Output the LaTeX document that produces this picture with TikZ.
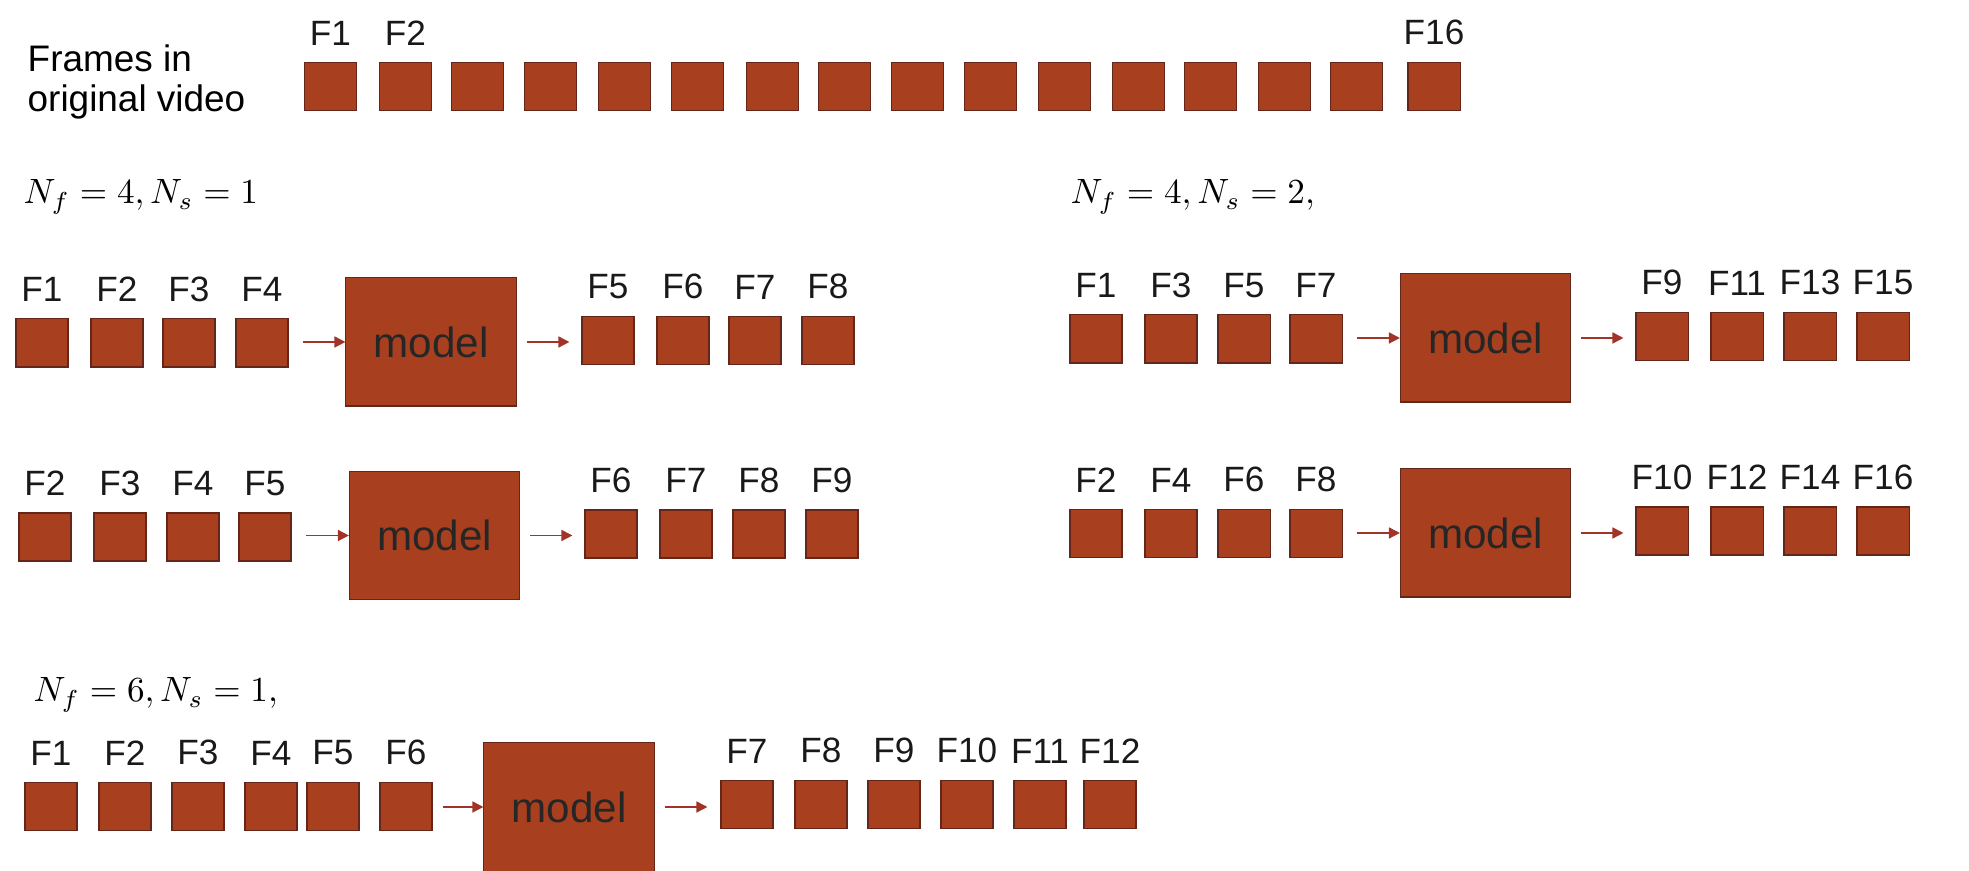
\documentclass[tikz,border=0pt]{standalone}
\usepackage[no-math]{fontspec}
\setmainfont{Liberation Sans}
\usepackage{tikz}
\usetikzlibrary{arrows.meta}
\definecolor{framefill}{RGB}{168,64,32}
\definecolor{frameline}{RGB}{100,38,26}
\definecolor{arrowred}{RGB}{160,52,40}

\begin{document}
\begin{tikzpicture}[x=0.01cm, y=-0.01cm,
  framebox/.style={draw=frameline, line width=0.3pt, fill=framefill, minimum width=0.52cm, minimum height=0.48cm, inner sep=0pt},
  modelbox/.style={draw=frameline, line width=0.3pt, fill=framefill, minimum width=1.7cm, minimum height=1.28cm, inner sep=0pt, font=\fontsize{12}{14}\selectfont, text=black!85},
  lab/.style={font=\fontsize{10}{12}\selectfont, text=black!90, inner sep=0pt},
  every label/.style={lab},
  label distance=0.16cm,
  arr/.style={draw=arrowred, line width=0.45pt, -{Triangle[length=0.11cm,width=0.11cm]}}]
\useasboundingbox (0,0) rectangle (1969,871);
% frames of the video
\node[anchor=base west, inner sep=0pt, font=\fontsize{10.5}{12}\selectfont] (vid1) at (27,72) {Frames in};
\node[anchor=base west, inner sep=0pt, font=\fontsize{10.5}{12}\selectfont] (vid2) at (27,112) {original video};
\node[framebox, label=above:F1] (t1) at (330.5,86.5) {};
\node[framebox, label=above:F2] (t2) at (405.5,86.5) {};
\node[framebox] (t3) at (477.5,86.5) {};
\node[framebox] (t4) at (550.5,86.5) {};
\node[framebox] (t5) at (624.5,86.5) {};
\node[framebox] (t6) at (697.5,86.5) {};
\node[framebox] (t7) at (772.5,86.5) {};
\node[framebox] (t8) at (844.5,86.5) {};
\node[framebox] (t9) at (917.5,86.5) {};
\node[framebox] (t10) at (990.5,86.5) {};
\node[framebox] (t11) at (1064.5,86.5) {};
\node[framebox] (t12) at (1138.5,86.5) {};
\node[framebox] (t13) at (1210.5,86.5) {};
\node[framebox] (t14) at (1284.5,86.5) {};
\node[framebox] (t15) at (1356.5,86.5) {};
\node[framebox, label=above:F16] (t16) at (1434,86.5) {};
% Nf=4, Ns=1
\node[anchor=base west, inner sep=0pt, font=\fontsize{10}{12}\selectfont] (cfg1) at (23,204) {$N_f = 4, N_s = 1$};
\node[framebox, label=above:F1] (a1) at (42,343) {};
\node[framebox, label=above:F2] (a2) at (117,343) {};
\node[framebox, label=above:F3] (a3) at (189,343) {};
\node[framebox, label=above:F4] (a4) at (262,343) {};
\node[modelbox] (ma) at (431,342) {model};
\node[framebox, label=above:F5] (pa1) at (608,340.5) {};
\node[framebox, label=above:F6] (pa2) at (683,340.5) {};
\node[framebox, label=above:F7] (pa3) at (755,340.5) {};
\node[framebox, label=above:F8] (pa4) at (828,340.5) {};
\draw[arr, shorten <=0.14cm] (a4.east |- ma) -- (ma.west);
\draw[arr, shorten <=0.1cm, shorten >=0.12cm] (ma.east) -- (ma.east -| pa1.west);
\node[framebox, label=above:F2] (b1) at (45,537) {};
\node[framebox, label=above:F3] (b2) at (120,537) {};
\node[framebox, label=above:F4] (b3) at (193,537) {};
\node[framebox, label=above:F5] (b4) at (265,537) {};
\node[modelbox] (mb) at (434.5,535.5) {model};
\node[framebox, label=above:F6] (pb1) at (611,534) {};
\node[framebox, label=above:F7] (pb2) at (686,534) {};
\node[framebox, label=above:F8] (pb3) at (759,534) {};
\node[framebox, label=above:F9] (pb4) at (832,534) {};
\draw[arr, shorten <=0.14cm] (b4.east |- mb) -- (mb.west);
\draw[arr, shorten <=0.1cm, shorten >=0.12cm] (mb.east) -- (mb.east -| pb1.west);
% Nf=4, Ns=2
\node[anchor=base west, inner sep=0pt, font=\fontsize{10}{12}\selectfont] (cfg2) at (1070,204) {$N_f = 4, N_s = 2,$};
\node[framebox, label=above:F1] (c1) at (1096,339) {};
\node[framebox, label=above:F3] (c2) at (1171,339) {};
\node[framebox, label=above:F5] (c3) at (1244,339) {};
\node[framebox, label=above:F7] (c4) at (1316,339) {};
\node[modelbox] (mc) at (1485.5,338) {model};
\node[framebox, label=above:F9] (pc1) at (1662,336.5) {};
\node[framebox, label=above:F11] (pc2) at (1737,336.5) {};
\node[framebox, label=above:F13] (pc3) at (1810,336.5) {};
\node[framebox, label=above:F15] (pc4) at (1883,336.5) {};
\draw[arr, shorten <=0.14cm] (c4.east |- mc) -- (mc.west);
\draw[arr, shorten <=0.1cm, shorten >=0.12cm] (mc.east) -- (mc.east -| pc1.west);
\node[framebox, label=above:F2] (d1) at (1096,533.5) {};
\node[framebox, label=above:F4] (d2) at (1171,533.5) {};
\node[framebox, label=above:F6] (d3) at (1244,533.5) {};
\node[framebox, label=above:F8] (d4) at (1316,533.5) {};
\node[modelbox] (md) at (1485.5,533) {model};
\node[framebox, label=above:F10] (pd1) at (1662,531) {};
\node[framebox, label=above:F12] (pd2) at (1737,531) {};
\node[framebox, label=above:F14] (pd3) at (1810,531) {};
\node[framebox, label=above:F16] (pd4) at (1883,531) {};
\draw[arr, shorten <=0.14cm] (d4.east |- md) -- (md.west);
\draw[arr, shorten <=0.1cm, shorten >=0.12cm] (md.east) -- (md.east -| pd1.west);
% Nf=6, Ns=1
\node[anchor=base west, inner sep=0pt, font=\fontsize{10}{12}\selectfont] (cfg3) at (33,702) {$N_f = 6, N_s = 1,$};
\node[framebox, label=above:F1] (e1) at (51,806.5) {};
\node[framebox, label=above:F2] (e2) at (125,806.5) {};
\node[framebox, label=above:F3] (e3) at (198,806.5) {};
\node[framebox, label=above:F4] (e4) at (271,806.5) {};
\node[framebox, label=above:F5] (e5) at (333,806.5) {};
\node[framebox, label=above:F6] (e6) at (406,806.5) {};
\node[modelbox] (me) at (569,807) {model};
\node[framebox, label=above:F7] (pe1) at (747,804.5) {};
\node[framebox, label=above:F8] (pe2) at (821,804.5) {};
\node[framebox, label=above:F9] (pe3) at (894,804.5) {};
\node[framebox, label=above:F10] (pe4) at (967,804.5) {};
\node[framebox, label=above:F11] (pe5) at (1040,804.5) {};
\node[framebox, label=above:F12] (pe6) at (1110,804.5) {};
\draw[arr, shorten <=0.1cm] (e6.east |- me) -- (me.west);
\draw[arr, shorten <=0.1cm, shorten >=0.13cm] (me.east) -- (me.east -| pe1.west);
\end{tikzpicture}
\end{document}
